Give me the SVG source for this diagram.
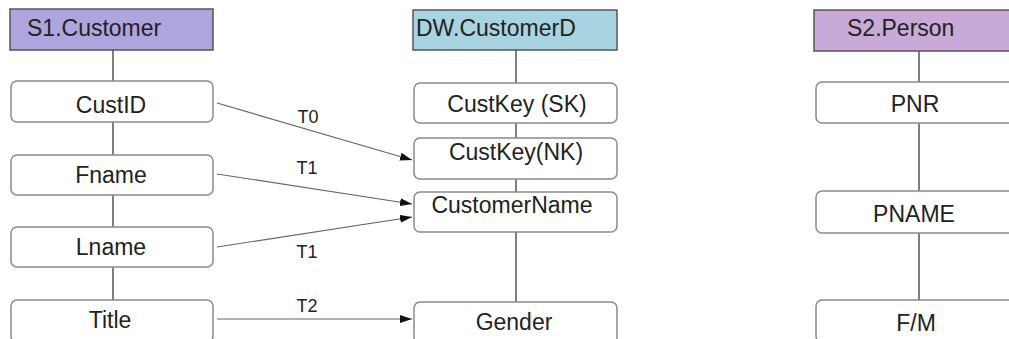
<svg xmlns="http://www.w3.org/2000/svg" width="1009" height="339" viewBox="0 0 1009 339">
  <defs>
    <marker id="arrow" viewBox="0 0 12 8" refX="12" refY="4" markerWidth="12" markerHeight="8" markerUnits="userSpaceOnUse" orient="auto">
      <path d="M0,0 L12,4 L0,8 Z" fill="#111"/>
    </marker>
    <style>
      .hdr { stroke: #555; stroke-width: 1.5; }
      .box { fill: #fff; stroke: #8a8a8a; stroke-width: 1.5; }
      .spine { stroke: #555; stroke-width: 1.5; fill: none; }
      .lbl { font-family: "Liberation Sans", Arial, sans-serif; font-size: 23px; fill: #222; }
      .mid { text-anchor: middle; }
      .edge { stroke: #666; stroke-width: 1.2; fill: none; marker-end: url(#arrow); }
      .elbl { font-family: "Liberation Sans", Arial, sans-serif; font-size: 18px; fill: #222; text-anchor: middle; }
    </style>
  </defs>
  <rect width="1009" height="339" fill="#fff"/>

  <!-- table spines -->
  <g id="spines">
    <line class="spine" x1="113" y1="50" x2="113" y2="300"/>
    <line class="spine" x1="516" y1="50" x2="516" y2="302"/>
    <line class="spine" x1="919" y1="51" x2="919" y2="300"/>
  </g>

  <!-- source table S1.Customer -->
  <g id="s1-customer">
    <rect class="hdr" x="10" y="9" width="203" height="41" fill="#aea5de"/>
    <text class="lbl" x="27" y="36">S1.Customer</text>
  </g>
  <g id="s1-custid">
    <rect class="box" x="11" y="81" width="202" height="41" rx="6"/>
    <text class="lbl mid" x="111" y="113">CustID</text>
  </g>
  <g id="s1-fname">
    <rect class="box" x="11" y="155" width="202" height="40" rx="6"/>
    <text class="lbl mid" x="111" y="183">Fname</text>
  </g>
  <g id="s1-lname">
    <rect class="box" x="11" y="227" width="202" height="40" rx="6"/>
    <text class="lbl mid" x="111" y="255">Lname</text>
  </g>
  <g id="s1-title">
    <rect class="box" x="11" y="300" width="202" height="42" rx="6"/>
    <text class="lbl mid" x="110" y="328">Title</text>
  </g>

  <!-- warehouse dimension DW.CustomerD -->
  <g id="dw-customerd">
    <rect class="hdr" x="413" y="10" width="204" height="40" fill="#a7d4e0"/>
    <text class="lbl" x="416" y="36">DW.CustomerD</text>
  </g>
  <g id="dw-custkey-sk">
    <rect class="box" x="414" y="83" width="203" height="40" rx="6"/>
    <text class="lbl mid" x="517" y="112">CustKey (SK)</text>
  </g>
  <g id="dw-custkey-nk">
    <rect class="box" x="414" y="138" width="203" height="41" rx="6"/>
    <text class="lbl mid" x="516" y="160">CustKey(NK)</text>
  </g>
  <g id="dw-customername">
    <rect class="box" x="414" y="192" width="203" height="40" rx="6"/>
    <text class="lbl mid" x="512" y="213">CustomerName</text>
  </g>
  <g id="dw-gender">
    <rect class="box" x="414" y="302" width="203" height="42" rx="6"/>
    <text class="lbl mid" x="514" y="330">Gender</text>
  </g>

  <!-- source table S2.Person -->
  <g id="s2-person">
    <rect class="hdr" x="814" y="10" width="210" height="41" fill="#c8a9d7"/>
    <text class="lbl" x="847" y="36">S2.Person</text>
  </g>
  <g id="s2-pnr">
    <rect class="box" x="816" y="82" width="210" height="41" rx="6"/>
    <text class="lbl mid" x="915" y="112">PNR</text>
  </g>
  <g id="s2-pname">
    <rect class="box" x="816" y="191" width="210" height="42" rx="6"/>
    <text class="lbl mid" x="914" y="222">PNAME</text>
  </g>
  <g id="s2-fm">
    <rect class="box" x="816" y="300" width="210" height="42" rx="6"/>
    <text class="lbl mid" x="916" y="331">F/M</text>
  </g>

  <!-- transformation mappings -->
  <g id="connectors">
    <line class="edge" x1="217" y1="103" x2="412" y2="160"/>
    <text class="elbl" x="308" y="123">T0</text>
    <line class="edge" x1="217" y1="174" x2="412" y2="204"/>
    <text class="elbl" x="307" y="174">T1</text>
    <line class="edge" x1="217" y1="247" x2="412" y2="217"/>
    <text class="elbl" x="307" y="258">T1</text>
    <line class="edge" x1="217" y1="319" x2="412" y2="319"/>
    <text class="elbl" x="307" y="312">T2</text>
  </g>
</svg>
